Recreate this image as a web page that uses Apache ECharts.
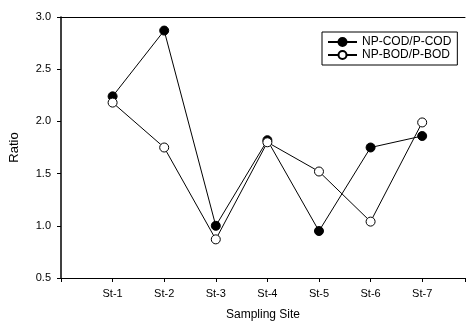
<!DOCTYPE html>
<html><head><meta charset="utf-8">
<script src="https://cdn.jsdelivr.net/npm/echarts@6/dist/echarts.min.js"></script>
<style>html,body{margin:0;padding:0;background:#fff}#c{width:470px;height:323px}</style>
</head><body><div id="c"></div>
<script>
const sites = ["St-1","St-2","St-3","St-4","St-5","St-6","St-7"];
const codRatio = [2.24, 2.87, 1.00, 1.82, 0.95, 1.75, 1.86];
const bodRatio = [2.18, 1.75, 0.87, 1.80, 1.52, 1.04, 1.99];
const yTicks = [0.5, 1.0, 1.5, 2.0, 2.5, 3.0];

const toPts = arr => arr.map((v,i)=>[i+1, v]);
const font = 'Liberation Sans, Arial, sans-serif';
const chart = echarts.init(document.getElementById('c'));
chart.setOption({
  animation:false,
  grid:{left:61, right:5, top:17, bottom:45, containLabel:false, outerBoundsMode:'none'},
  legend:{
    orient:'vertical', left:322, top:32,
    padding:[4,6,4,5], itemGap:1, itemWidth:29, itemHeight:10,
    borderColor:'#000', borderWidth:1,
    textStyle:{fontFamily:font, fontSize:12, color:'#000'},
    data:['NP-COD/P-COD','NP-BOD/P-BOD']
  },
  xAxis:[{
    type:'value', min:0, max:7.83, interval:1,
    name:'Sampling Site', nameLocation:'middle', nameGap:31,
    nameTextStyle:{fontFamily:font, fontSize:12, color:'#000'},
    axisLine:{onZero:false, lineStyle:{color:'#000', width:1}},
    axisTick:{show:true, length:4, lineStyle:{color:'#000'}},
    axisLabel:{fontFamily:font, fontSize:11, color:'#000', margin:10,
      formatter:v=> (v>=1 && v<=sites.length && Number.isInteger(v)) ? sites[v-1] : ''},
    splitLine:{show:false}
  },{
    type:'value', position:'top', min:0, max:7.83,
    axisLine:{show:true, onZero:false, lineStyle:{color:'#000', width:1}},
    axisTick:{show:false}, axisLabel:{show:false}, splitLine:{show:false}
  }],
  yAxis:{
    type:'value', min:yTicks[0], max:yTicks[yTicks.length-1], interval:0.5,
    name:'Ratio', nameLocation:'middle', nameGap:40, nameRotate:90,
    nameTextStyle:{fontFamily:font, fontSize:13, color:'#000'},
    axisLine:{show:true, lineStyle:{color:'#000', width:1.5}},
    axisTick:{show:true, length:4, lineStyle:{color:'#000'}},
    axisLabel:{fontFamily:font, fontSize:11, color:'#000', margin:10,
      formatter:v=>v.toFixed(1)},
    splitLine:{show:false}
  },
  series:[{
    name:'NP-COD/P-COD', type:'line', data:toPts(codRatio),
    symbol:'circle', symbolSize:9,
    lineStyle:{color:'#000', width:1},
    itemStyle:{color:'#000', borderColor:'#000', borderWidth:1}
  },{
    name:'NP-BOD/P-BOD', type:'line', data:toPts(bodRatio),
    symbol:'circle', symbolSize:9,
    lineStyle:{color:'#000', width:1},
    itemStyle:{color:'#fff', borderColor:'#000', borderWidth:1}
  }]
});
</script></body></html>
